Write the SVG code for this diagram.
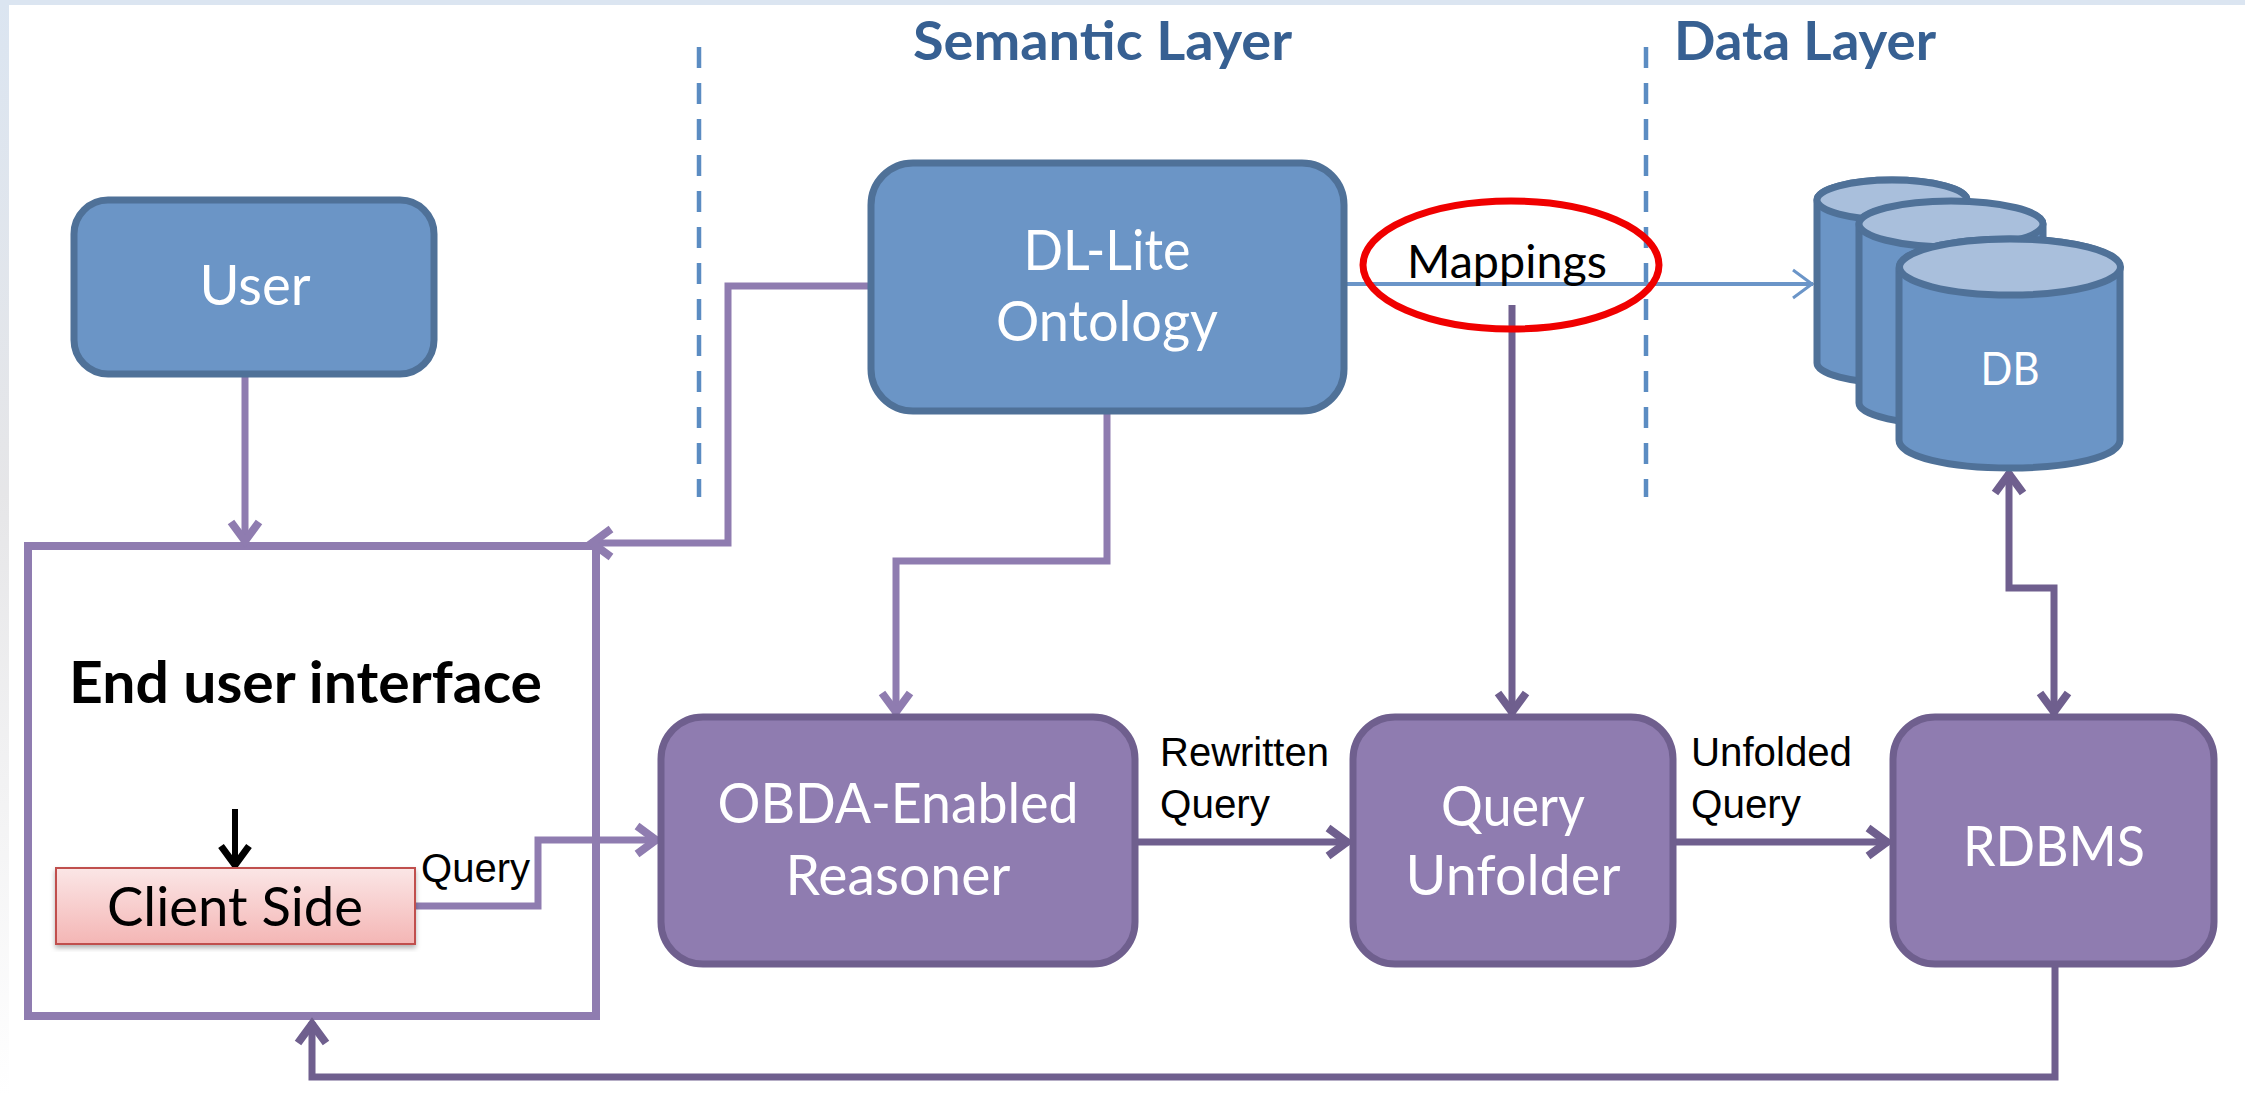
<svg xmlns="http://www.w3.org/2000/svg" width="2245" height="1095" viewBox="0 0 2245 1095">
<defs>
<linearGradient id="edge" x1="0" y1="0" x2="0" y2="1"><stop offset="0" stop-color="#dbe5f1"/><stop offset="0.45" stop-color="#e6e6e8"/><stop offset="1" stop-color="#ffffff"/></linearGradient>
<linearGradient id="pink" x1="0" y1="0" x2="0" y2="1"><stop offset="0" stop-color="#fbe6e6"/><stop offset="1" stop-color="#f4b6b5"/></linearGradient>
<filter id="sh" x="-5%" y="-5%" width="110%" height="115%"><feDropShadow dx="0" dy="3" stdDeviation="2.500" flood-color="#000" flood-opacity="0.3"/></filter>
<marker id="aL" markerUnits="userSpaceOnUse" markerWidth="44" markerHeight="44" refX="34" refY="22" orient="auto-start-reverse"><path d="M13,8 L32,22 L13,36" fill="none" stroke="#8f7cb0" stroke-width="8"/></marker>
<marker id="aD" markerUnits="userSpaceOnUse" markerWidth="44" markerHeight="44" refX="34" refY="22" orient="auto-start-reverse"><path d="M13,8 L32,22 L13,36" fill="none" stroke="#6f5f8e" stroke-width="8"/></marker>
<marker id="aB" markerUnits="userSpaceOnUse" markerWidth="44" markerHeight="44" refX="34" refY="22" orient="auto"><path d="M14,8 L33,22 L14,36" fill="none" stroke="#6b95c8" stroke-width="3"/></marker>
<marker id="aK" markerUnits="userSpaceOnUse" markerWidth="44" markerHeight="44" refX="34" refY="22" orient="auto"><path d="M13,8 L32,22 L13,36" fill="none" stroke="#000" stroke-width="7"/></marker>
</defs>
<style>
.bl{fill:#6b95c6;stroke:#4f7198;stroke-width:7}
.pu{fill:#8f7cb0;stroke:#6f5f8e;stroke-width:7}
.w{fill:#fff;font-family:"Lato","Open Sans",sans-serif;text-anchor:middle;font-size:56px}
.k{fill:#000;font-family:"Liberation Sans",Arial,sans-serif;font-size:40px}
.h{fill:#376092;font-family:"Lato","Open Sans",sans-serif;font-size:54px;font-weight:700}
.dash{fill:none;stroke:#5b8cc2;stroke-width:4.500;stroke-dasharray:21 15}
.cL{fill:none;stroke:#8f7cb0;stroke-width:7}
.cD{fill:none;stroke:#6f5f8e;stroke-width:7}
</style>
<rect width="2245" height="1095" fill="#fff"/>
<rect width="9" height="1095" fill="url(#edge)"/>
<rect width="2245" height="5" fill="#dbe5f1"/>

<g id="layer-labels">
<text class="h" x="913" y="60" textLength="379" lengthAdjust="spacingAndGlyphs">Semantic Layer</text>
<text class="h" x="1674" y="60" textLength="262" lengthAdjust="spacingAndGlyphs">Data Layer</text>
<path class="dash" d="M699,47V497"/>
<path class="dash" d="M1646,47V497"/>
</g>

<g id="frame-end-user-interface">
<rect x="28" y="546" width="568" height="470" fill="#fff" stroke="#8f7cb0" stroke-width="8"/>
<text x="69" y="703" font-family="Lato,'Open Sans',sans-serif" font-weight="700" font-size="58" fill="#000" textLength="473" lengthAdjust="spacingAndGlyphs">End user interface</text>
</g>

<g id="connectors">
<path class="cL" d="M245,376V543" marker-end="url(#aL)"/>
<path class="cL" d="M868,286H728V543H590" marker-end="url(#aL)"/>
<path class="cL" d="M1107,412V561H896V714" marker-end="url(#aL)"/>
<path class="cL" d="M415,906H538V840H658" marker-end="url(#aL)"/>
<path d="M1347,284H1813" fill="none" stroke="#6b95c8" stroke-width="4" marker-end="url(#aB)"/>
<path class="cD" d="M1512,305V714" marker-end="url(#aD)"/>
<path class="cD" d="M1138,842H1349" marker-end="url(#aD)"/>
<path class="cD" d="M1675,842H1889" marker-end="url(#aD)"/>
<path class="cD" d="M2009,472V588H2054V714" marker-start="url(#aD)" marker-end="url(#aD)"/>
<path class="cD" d="M2055,964V1077H312V1022" marker-end="url(#aD)"/>
<path d="M235,809V867" fill="none" stroke="#000" stroke-width="6" marker-end="url(#aK)"/>
</g>

<g id="node-user">
<rect class="bl" x="74" y="200" width="360" height="174" rx="34"/>
<text class="w" x="255" y="305" textLength="111" lengthAdjust="spacingAndGlyphs">User</text>
</g>
<g id="node-ontology">
<rect class="bl" x="871" y="163" width="473" height="248" rx="42"/>
<text class="w" x="1107" y="270" textLength="167" lengthAdjust="spacingAndGlyphs">DL-Lite</text>
<text class="w" x="1107" y="341" textLength="222" lengthAdjust="spacingAndGlyphs">Ontology</text>
</g>
<g id="node-db">
<path class="bl" d="M1817,200C1817,189 1852,180 1892,180C1932,180 1967,189 1967,200V363C1967,374 1932,383 1892,383C1852,383 1817,374 1817,363Z"/>
<ellipse cx="1892" cy="200" rx="75" ry="20" fill="#a9bfdc" stroke="#4f7198" stroke-width="7"/>
<path class="bl" d="M1859,224C1859,211 1905,202 1951,202C1997,202 2043,211 2043,224V403C2043,416 1997,425 1951,425C1905,425 1859,416 1859,403Z"/>
<ellipse cx="1951" cy="224" rx="92" ry="23" fill="#a9bfdc" stroke="#4f7198" stroke-width="7"/>
<path class="bl" d="M1899,268C1899,251 1950,239 2010,239C2070,239 2120,251 2120,268V440C2120,457 2070,468 2010,468C1950,468 1899,457 1899,440Z"/>
<ellipse cx="2010" cy="267" rx="110.500" ry="28" fill="#a9bfdc" stroke="#4f7198" stroke-width="7"/>
<text class="w" x="2010" y="385" style="font-size:46px" textLength="59" lengthAdjust="spacingAndGlyphs">DB</text>
</g>
<g id="node-reasoner">
<rect class="pu" x="661" y="717" width="474" height="247" rx="42"/>
<text class="w" x="898" y="823" textLength="361" lengthAdjust="spacingAndGlyphs">OBDA-Enabled</text>
<text class="w" x="898" y="895" textLength="225" lengthAdjust="spacingAndGlyphs">Reasoner</text>
</g>
<g id="node-unfolder">
<rect class="pu" x="1353" y="717" width="320" height="247" rx="42"/>
<text class="w" x="1513" y="826" textLength="144" lengthAdjust="spacingAndGlyphs">Query</text>
<text class="w" x="1513" y="895" textLength="215" lengthAdjust="spacingAndGlyphs">Unfolder</text>
</g>
<g id="node-rdbms">
<rect class="pu" x="1893" y="717" width="321" height="247" rx="42"/>
<text class="w" x="2054" y="866" textLength="182" lengthAdjust="spacingAndGlyphs">RDBMS</text>
</g>
<g id="node-client-side">
<rect x="56" y="868" width="359" height="76" fill="url(#pink)" stroke="#c0504d" stroke-width="2" filter="url(#sh)"/>
<text x="107" y="926" font-family="Lato,'Open Sans',sans-serif" font-size="54" fill="#000" textLength="256" lengthAdjust="spacingAndGlyphs">Client Side</text>
</g>
<g id="labels">
<text class="k" x="421" y="882" textLength="109" lengthAdjust="spacingAndGlyphs">Query</text>
<text class="k" x="1160" y="766" textLength="169" lengthAdjust="spacingAndGlyphs">Rewritten</text>
<text class="k" x="1160" y="818" textLength="110" lengthAdjust="spacingAndGlyphs">Query</text>
<text class="k" x="1691" y="766" textLength="161" lengthAdjust="spacingAndGlyphs">Unfolded</text>
<text class="k" x="1691" y="818" textLength="110" lengthAdjust="spacingAndGlyphs">Query</text>
</g>
<g id="mappings-highlight">
<ellipse cx="1511" cy="265" rx="148" ry="64" fill="none" stroke="#f00000" stroke-width="7"/>
<text x="1407" y="278" font-family="Lato,'Open Sans',sans-serif" font-size="47" fill="#000" textLength="200" lengthAdjust="spacingAndGlyphs">Mappings</text>
</g>
</svg>
